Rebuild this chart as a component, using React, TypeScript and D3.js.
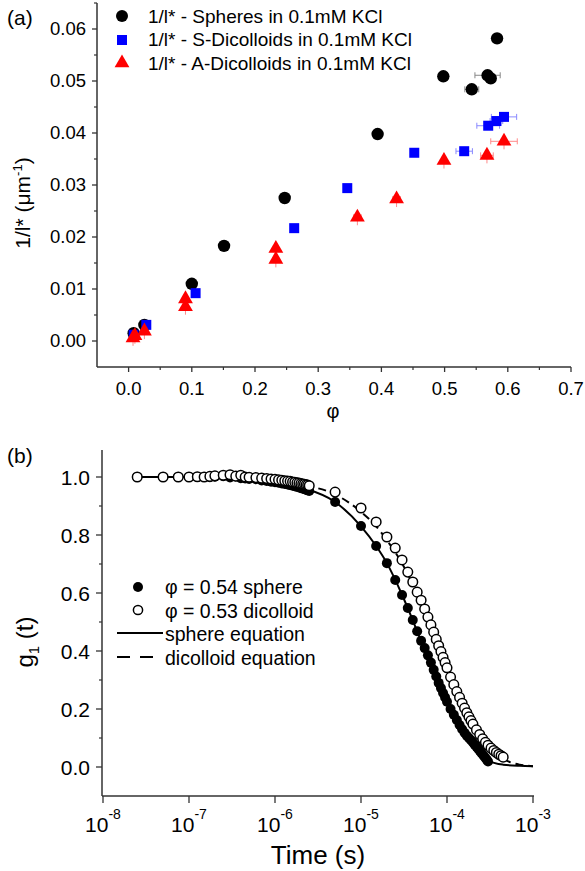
import * as d3 from 'd3';

// ---- panel (a): 1/l* vs phi ----
const sphereX = [0.008, 0.025, 0.1, 0.151, 0.247, 0.394, 0.498, 0.543, 0.568, 0.573, 0.583];
const sphereY = [0.0015, 0.0031, 0.011, 0.0183, 0.0275, 0.0398, 0.0509, 0.0484, 0.0511, 0.0505, 0.0582];
const sphereXErr = [0, 0, 0, 0, 0, 0, 0, 0.011, 0.02, 0, 0];

const sDiX = [0.008, 0.028, 0.106, 0.262, 0.346, 0.452, 0.531, 0.569, 0.582, 0.594];
const sDiY = [0.0012, 0.0031, 0.0092, 0.0217, 0.0294, 0.0362, 0.0365, 0.0414, 0.0423, 0.0431];
const sDiXErr = [0, 0, 0, 0, 0, 0, 0.013, 0.018, 0.01, 0.02];

const aDiX = [0.007, 0.01, 0.025, 0.09, 0.09, 0.233, 0.233, 0.362, 0.424, 0.499, 0.567, 0.594];
const aDiY = [0.0006, 0.001, 0.0019, 0.0081, 0.0066, 0.0178, 0.0157, 0.0238, 0.0273, 0.0347, 0.0357, 0.0384];
const aDiXErr = [0, 0, 0, 0, 0, 0, 0, 0.006, 0.006, 0, 0.01, 0.021];

const legendA = [
  '1/l* - Spheres in 0.1mM KCl',
  '1/l* - S-Dicolloids in 0.1mM KCl',
  '1/l* - A-Dicolloids in 0.1mM KCl',
];
const xTicksA = [0, 0.1, 0.2, 0.3, 0.4, 0.5, 0.6, 0.7];
const yTicksA = [0, 0.01, 0.02, 0.03, 0.04, 0.05, 0.06];

// ---- panel (b): g1(t), time in microseconds ----
const sphereT = [
  0.025, 0.05, 0.075, 0.1, 0.125, 0.15, 0.175, 0.2, 0.25, 0.3, 0.35, 0.4, 0.45, 0.5, 0.6, 0.7, 0.8, 0.9,
  1.0, 1.1, 1.2, 1.3, 1.4, 1.5, 1.6, 1.7, 1.8, 1.9, 2.0, 2.1, 2.2, 2.3, 2.4, 2.5,
  5, 10, 15, 20, 25, 30, 35, 40, 45, 50, 55, 60, 65, 70, 75, 80, 85, 90, 95, 100,
  110, 120, 130, 140, 150, 160, 170, 180, 190, 200, 210, 220, 230, 240, 250, 260, 270, 280, 290, 300,
];
const sphereG = [
  1.0, 1.0, 1.0, 1.0, 1.0, 1.0, 0.999, 1.001, 1.003, 0.998, 1.002, 0.996, 0.995, 0.993, 0.992, 0.988, 0.986, 0.984,
  0.982, 0.98, 0.978, 0.976, 0.974, 0.972, 0.97, 0.968, 0.966, 0.964, 0.962, 0.96, 0.958, 0.956, 0.954, 0.952,
  0.914, 0.831, 0.762, 0.703, 0.645, 0.593, 0.548, 0.507, 0.468, 0.435, 0.41, 0.385, 0.36, 0.335, 0.312, 0.29, 0.272, 0.255, 0.24, 0.225,
  0.2, 0.18, 0.162, 0.145, 0.13, 0.118, 0.108, 0.1, 0.092, 0.085, 0.077, 0.07, 0.063, 0.056, 0.049, 0.043, 0.037, 0.031, 0.025, 0.019,
];

const dicT = [
  0.025, 0.05, 0.075, 0.1, 0.125, 0.15, 0.175, 0.2, 0.25, 0.3, 0.35, 0.4, 0.45, 0.5, 0.6, 0.7, 0.8, 0.9,
  1.0, 1.1, 1.2, 1.3, 1.4, 1.5, 1.6, 1.7, 1.8, 1.9, 2.0, 2.1, 2.2, 2.3, 2.4, 2.5,
  5, 10, 15, 20, 25, 30, 35, 40, 45, 50, 55, 60, 65, 70, 75, 80, 85, 90, 95, 100,
  110, 120, 130, 140, 150, 160, 170, 180, 190, 200, 220, 240, 260, 280, 300, 325, 350, 375, 400, 425, 450,
];
const dicG = [
  1.0, 1.0, 1.0, 1.0, 1.001, 1.0, 1.002, 1.004, 1.006, 1.008, 1.003, 1.006, 1.0, 0.999, 0.998, 0.996, 0.995, 0.993,
  0.992, 0.99, 0.989, 0.987, 0.986, 0.985, 0.983, 0.982, 0.98, 0.979, 0.977, 0.976, 0.975, 0.973, 0.972, 0.97,
  0.948, 0.893, 0.845, 0.793, 0.755, 0.714, 0.672, 0.638, 0.603, 0.575, 0.545, 0.517, 0.49, 0.465, 0.44, 0.418, 0.398, 0.378, 0.36, 0.342,
  0.31, 0.284, 0.26, 0.24, 0.22, 0.203, 0.187, 0.173, 0.16, 0.148, 0.128, 0.112, 0.097, 0.085, 0.075, 0.065, 0.057, 0.05, 0.044, 0.039, 0.034,
];

const sphereEqT = [0.025, 0.1, 0.5, 1, 2, 5, 10, 15, 20, 30, 40, 50, 70, 100, 140, 200, 300, 450, 700, 1000];
const sphereEqG = [1.0, 1.0, 0.993, 0.983, 0.964, 0.914, 0.83, 0.762, 0.703, 0.594, 0.506, 0.434, 0.333, 0.224, 0.145, 0.084, 0.022, 0.008, 0.004, 0.003];
const dicEqT = [0.025, 0.1, 0.5, 1, 2, 5, 10, 15, 20, 30, 40, 50, 70, 100, 140, 200, 300, 450, 700, 1000];
const dicEqG = [1.0, 1.0, 0.996, 0.99, 0.974, 0.94, 0.88, 0.83, 0.782, 0.702, 0.63, 0.566, 0.458, 0.335, 0.235, 0.146, 0.074, 0.028, 0.008, 0.003];

const legendB = ['\u03c6 = 0.54 sphere', '\u03c6 = 0.53 dicolloid', 'sphere equation', 'dicolloid equation'];
const xTicksB = [-8, -7, -6, -5, -4, -3];
const yTicksB = [0, 0.2, 0.4, 0.6, 0.8, 1.0];

const FONT = '"Liberation Sans", Arial, sans-serif';
const AXIS = '#333';

export default function App() {
  const xA = d3.scaleLinear().domain([-0.05, 0.7]).range([97, 571]);
  const yA = d3.scaleLinear().domain([-0.005, 0.065]).range([367, 3]);
  const xB = d3.scaleLog().domain([1e-8, 1e-3]).range([103, 533]);
  const yB = d3.scaleLinear().domain([-0.1, 1.1]).range([796, 448]);

  const minorXA = d3.range(-0.05, 0.7, 0.1).map((v) => +v.toFixed(2)).filter((v) => v > -0.05);
  const minorYA = d3.range(-0.005, 0.065, 0.01).map((v) => +v.toFixed(3)).filter((v) => v > -0.005);
  const minorYB = [0.1, 0.3, 0.5, 0.7, 0.9];

  const tri = d3.symbol().type(d3.symbolTriangle).size(95)();

  const lineB = d3
    .line<[number, number]>()
    .x((d) => xB(d[0] * 1e-6))
    .y((d) => yB(d[1]))
    .curve(d3.curveMonotoneX);

  const sphereEq = sphereEqT.map((t, i) => [t, sphereEqG[i]] as [number, number]);
  const dicEq = dicEqT.map((t, i) => [t, dicEqG[i]] as [number, number]);

  const errBar = (x: number, y: number, e: number, color: string, key: string) =>
    e > 0 ? (
      <g key={key} stroke={color} strokeWidth={1}>
        <line x1={xA(x - e)} x2={xA(x + e)} y1={yA(y)} y2={yA(y)} />
        <line x1={xA(x - e)} x2={xA(x - e)} y1={yA(y) - 3} y2={yA(y) + 3} />
        <line x1={xA(x + e)} x2={xA(x + e)} y1={yA(y) - 3} y2={yA(y) + 3} />
      </g>
    ) : null;

  return (
    <svg width={585} height={871} style={{ position: 'absolute', left: 0, top: 0, background: '#fff' }} fontFamily={FONT}>
      {/* ================= panel (a) ================= */}
      <text x={7} y={25} fontSize={21}>(a)</text>

      {/* axes */}
      <line x1={97} x2={97} y1={3} y2={367} stroke={AXIS} strokeWidth={1.5} />
      <line x1={97} x2={571} y1={367} y2={367} stroke={AXIS} strokeWidth={1.5} />
      {yTicksA.map((v) => (
        <g key={'ya' + v}>
          <line x1={92} x2={97} y1={yA(v)} y2={yA(v)} stroke={AXIS} strokeWidth={1.3} />
          <text x={86} y={yA(v)} dy="0.35em" fontSize={18.5} textAnchor="end">{d3.format('.2f')(v)}</text>
        </g>
      ))}
      {minorYA.map((v) => (
        <line key={'mya' + v} x1={94} x2={97} y1={yA(v)} y2={yA(v)} stroke={AXIS} strokeWidth={1.2} />
      ))}
      {xTicksA.map((v) => (
        <g key={'xa' + v}>
          <line x1={xA(v)} x2={xA(v)} y1={367} y2={372} stroke={AXIS} strokeWidth={1.3} />
          <text x={xA(v)} y={395} fontSize={18.5} textAnchor="middle">{d3.format('.1f')(v)}</text>
        </g>
      ))}
      {minorXA.map((v) => (
        <line key={'mxa' + v} x1={xA(v)} x2={xA(v)} y1={367} y2={370} stroke={AXIS} strokeWidth={1.2} />
      ))}
      <text x={333} y={418} fontSize={20} textAnchor="middle">φ</text>
      <text transform="translate(30,203) rotate(-90)" fontSize={21} textAnchor="middle">
        1/l* (μm<tspan dy={-8} fontSize={13}>-1</tspan><tspan dy={8}>)</tspan>
      </text>

      {/* error bars */}
      {sphereX.map((x, i) => errBar(x, sphereY[i], sphereXErr[i], '#888', 'es' + i))}
      {sDiX.map((x, i) => errBar(x, sDiY[i], sDiXErr[i], '#8a8aff', 'eb' + i))}
      {aDiX.map((x, i) => errBar(x, aDiY[i], aDiXErr[i], '#ff8a8a', 'er' + i))}
      {aDiX.map((x, i) => (
        <line key={'ev' + i} x1={xA(x)} x2={xA(x)} y1={yA(aDiY[i]) - 6} y2={yA(aDiY[i]) + 8} stroke="#ff8a8a" strokeWidth={1} />
      ))}

      {/* markers */}
      {sphereX.map((x, i) => (
        <circle key={'s' + i} cx={xA(x)} cy={yA(sphereY[i])} r={6.2} fill="#000" />
      ))}
      {sDiX.map((x, i) => (
        <rect key={'b' + i} x={xA(x) - 5} y={yA(sDiY[i]) - 5} width={10} height={10} fill="#0000ff" />
      ))}
      {aDiX.map((x, i) => (
        <path key={'r' + i} d={tri} transform={`translate(${xA(x)},${yA(aDiY[i])})`} fill="#ff0000" />
      ))}

      {/* legend (a) */}
      <circle cx={122} cy={16} r={6} fill="#000" />
      <rect x={117} y={35} width={10} height={10} fill="#0000ff" />
      <path d={tri} transform="translate(122,63)" fill="#ff0000" />
      {legendA.map((t, i) => (
        <text key={'la' + i} x={148} y={16 + i * 23.5} dy="0.36em" fontSize={19}>{t}</text>
      ))}

      {/* ================= panel (b) ================= */}
      <text x={7} y={463} fontSize={21}>(b)</text>

      <line x1={102} x2={102} y1={450} y2={796} stroke={AXIS} strokeWidth={1.5} />
      <line x1={102} x2={534} y1={796} y2={796} stroke={AXIS} strokeWidth={1.5} />
      {yTicksB.map((v) => (
        <g key={'yb' + v}>
          <line x1={96} x2={102} y1={yB(v)} y2={yB(v)} stroke={AXIS} strokeWidth={1.3} />
          <text x={90} y={yB(v)} dy="0.36em" fontSize={21} textAnchor="end">{d3.format('.1f')(v)}</text>
        </g>
      ))}
      {minorYB.map((v) => (
        <line key={'myb' + v} x1={99} x2={102} y1={yB(v)} y2={yB(v)} stroke={AXIS} strokeWidth={1.2} />
      ))}
      {xTicksB.map((p) => (
        <g key={'xb' + p}>
          <line x1={xB(Math.pow(10, p))} x2={xB(Math.pow(10, p))} y1={796} y2={803} stroke={AXIS} strokeWidth={1.3} />
          <text x={xB(Math.pow(10, p))} y={832} fontSize={21} textAnchor="middle">
            10<tspan dy={-13} fontSize={14}>{p}</tspan>
          </text>
        </g>
      ))}
      <text x={318} y={864} fontSize={26} textAnchor="middle">Time (s)</text>
      <text transform="translate(33,642) rotate(-90)" fontSize={24} textAnchor="middle">
        g<tspan dy={6} fontSize={15}>1</tspan><tspan dy={-6}> (t)</tspan>
      </text>

      {/* equation curves */}
      <path d={lineB(sphereEq) ?? ''} fill="none" stroke="#000" strokeWidth={2} />
      <path d={lineB(dicEq) ?? ''} fill="none" stroke="#000" strokeWidth={2} strokeDasharray="8,5" />

      {/* data */}
      {sphereT.map((t, i) => (
        <circle key={'fs' + i} cx={xB(t * 1e-6)} cy={yB(sphereG[i])} r={5} fill="#000" />
      ))}
      {dicT.map((t, i) => (
        <circle key={'od' + i} cx={xB(t * 1e-6)} cy={yB(dicG[i])} r={4.8} fill="#fff" stroke="#000" strokeWidth={1.5} />
      ))}

      {/* legend (b) */}
      <circle cx={138} cy={587} r={5} fill="#000" />
      <circle cx={138} cy={610} r={4.6} fill="#fff" stroke="#000" strokeWidth={1.5} />
      <line x1={117} x2={163} y1={633} y2={633} stroke="#000" strokeWidth={2} />
      <line x1={117} x2={163} y1={657} y2={657} stroke="#000" strokeWidth={2} strokeDasharray="13,10" />
      {legendB.map((t, i) => (
        <text key={'lb' + i} x={165} y={587 + i * 23.5} dy="0.36em" fontSize={19.5}>{t}</text>
      ))}
    </svg>
  );
}
